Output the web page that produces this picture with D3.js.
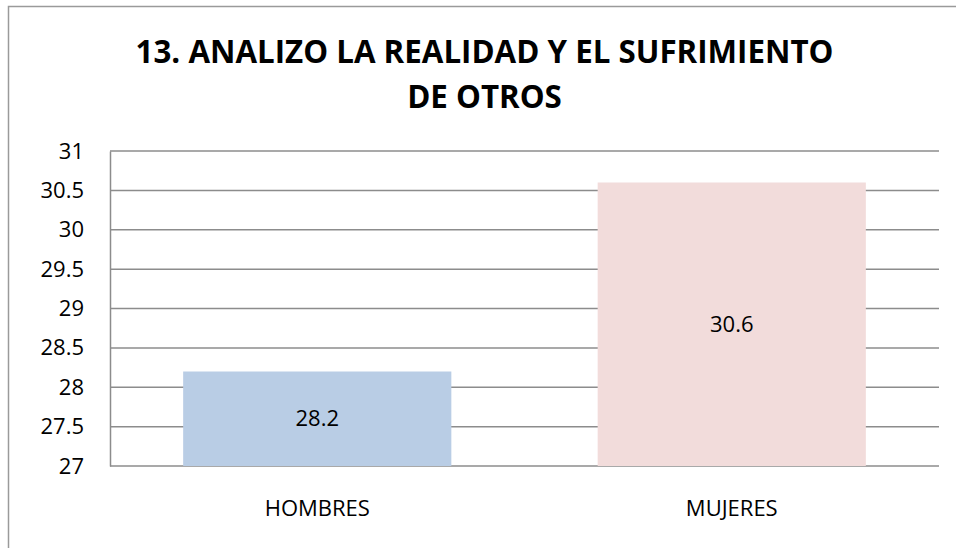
<!DOCTYPE html>
<html>
<head>
	<meta charset="UTF-8" />
	<title>13. analizo la realidad</title>
	<script src="https://d3js.org/d3.v7.min.js"></script>
	<style type="text/css">
		body{margin:0; background:#fff;}
		text{font-family: "Open Sans", sans-serif; fill:#000;}
	</style>
</head>
<body>
	<svg id="chart"></svg>

	<script type="text/javascript">
	// data
	var categories = ["HOMBRES", "MUJERES"]
	var values = [28.2, 30.6]
	var barColors = ["#b9cde5", "#f2dcdb"]
	var yTicks = [27, 27.5, 28, 28.5, 29, 29.5, 30, 30.5, 31]
	var titleLines = ["13. ANALIZO LA REALIDAD Y EL SUFRIMIENTO", "DE OTROS"]

	// window
	var w = 956
	var h = 548
	var margin = {top: 151, right: 17, bottom: 82, left: 110}
	var width = w - margin.left - margin.right
	var height = h - margin.top - margin.bottom

	var svg = d3.select("#chart")
		.attr("width", w)
		.attr("height", h)

	// outer frame (runs off the picture at right/bottom)
	svg.append("rect")
		.attr("x", 8.5).attr("y", 6.5)
		.attr("width", 1000).attr("height", 1000)
		.attr("fill", "none")
		.attr("stroke", "#9a9a9a")
		.attr("stroke-width", 1.5)

	// title
	svg.append("g").selectAll("text")
		.data(titleLines)
		.enter()
		.append("text")
		.attr("x", 484.5)
		.attr("y", (d, i) => 63 + i * 45)
		.attr("text-anchor", "middle")
		.style("font-weight", "bold")
		.style("font-size", "31.3px")
		.text(d => d)

	var g = svg.append("g")
		.attr("transform", "translate(" + margin.left + "," + margin.top + ")")

	var xScale = d3.scaleBand().domain(categories).range([0, width]).paddingInner(0.353).paddingOuter(0.1765)
	var yScale = d3.scaleLinear().domain([27, 31]).range([height, 0])

	// grid lines
	g.append("g")
		.selectAll("line")
		.data(yTicks)
		.enter()
		.append("line")
		.attr("x1", 0).attr("x2", width)
		.attr("y1", d => yScale(d)).attr("y2", d => yScale(d))
		.attr("stroke", "#8c8c8c")
		.attr("stroke-width", 1.5)

	// bars
	g.selectAll(".bar")
		.data(values)
		.enter()
		.append("rect")
		.attr("class", "bar")
		.attr("x", (d, i) => xScale(categories[i]))
		.attr("y", d => yScale(d))
		.attr("width", xScale.bandwidth())
		.attr("height", d => height - yScale(d))
		.attr("fill", (d, i) => barColors[i])

	// bar labels
	g.selectAll(".lbl")
		.data(values)
		.enter()
		.append("text")
		.attr("class", "lbl")
		.attr("x", (d, i) => xScale(categories[i]) + xScale.bandwidth() / 2)
		.attr("y", d => (yScale(d) + height) / 2)
		.attr("dy", "0.35em")
		.attr("text-anchor", "middle")
		.style("font-size", "22px")
		.text(d => d)

	// y axis
	var yAxis = g.append("g")
		.call(d3.axisLeft(yScale).tickValues(yTicks).tickSize(0).tickPadding(26).tickFormat(d3.format("")))
	yAxis.select(".domain").attr("stroke", "#8c8c8c").attr("stroke-width", 1.5)
	yAxis.selectAll("text").style("font-size", "22px").style("font-family", "Open Sans")

	// x axis
	var xAxis = g.append("g")
		.attr("transform", "translate(0," + height + ")")
		.call(d3.axisBottom(xScale).tickSize(0).tickPadding(34))
	xAxis.select(".domain").remove()
	xAxis.selectAll("text").style("font-size", "22px").style("font-family", "Open Sans")
	</script>
</body>
</html>
